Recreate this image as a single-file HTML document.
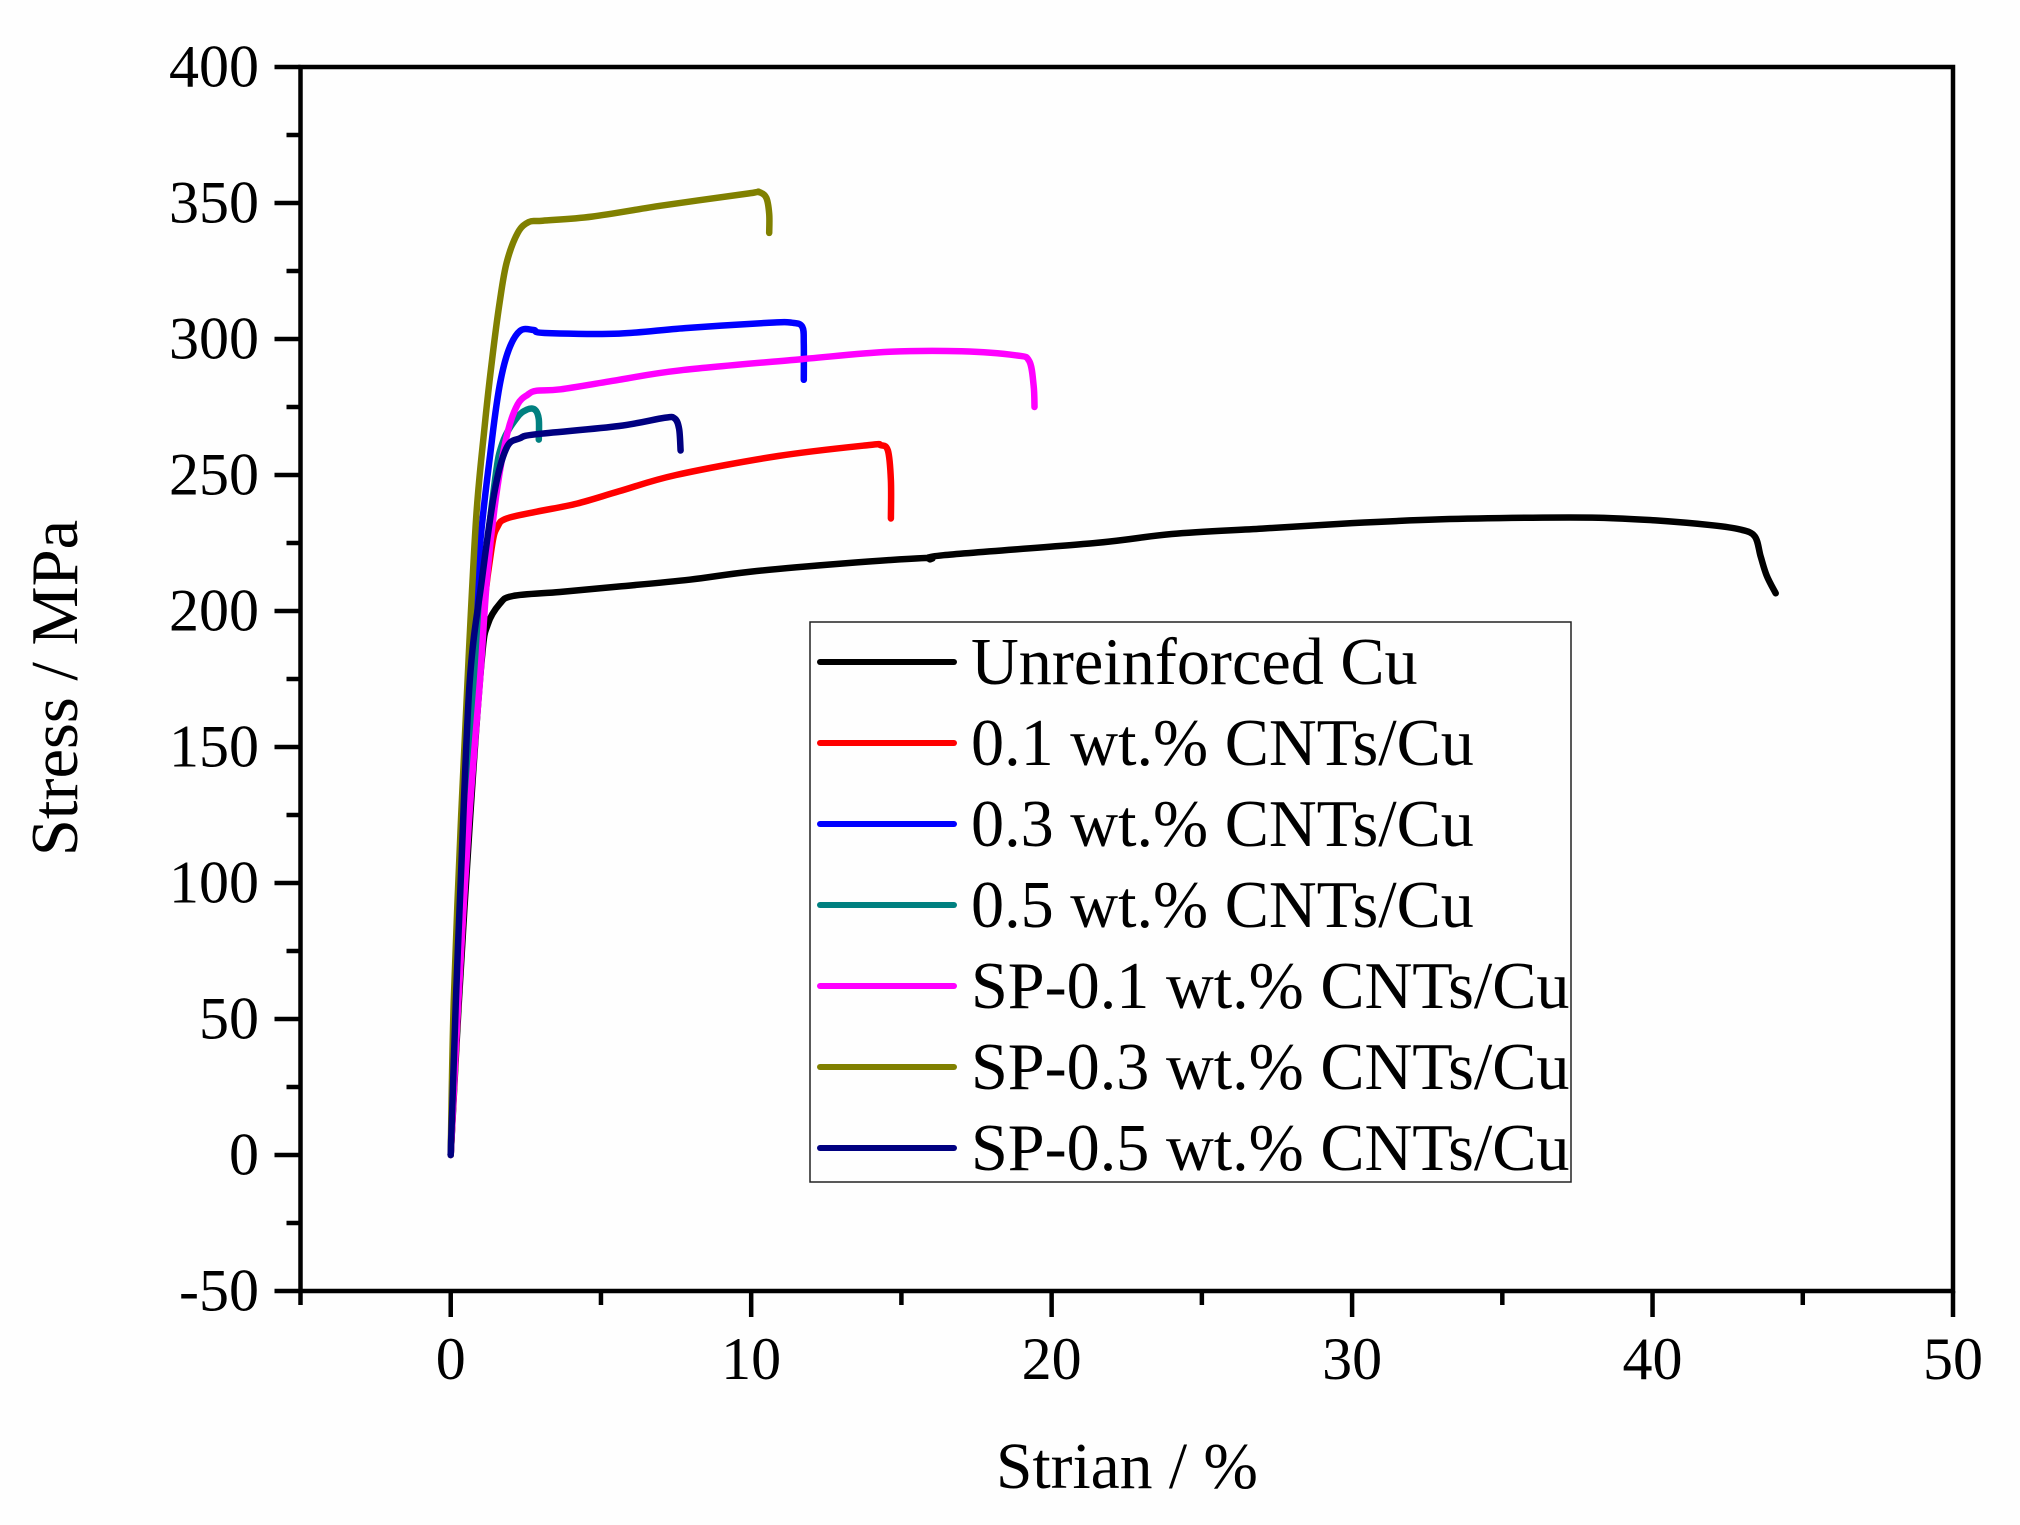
<!DOCTYPE html>
<html lang="en">
<head>
<meta charset="utf-8">
<title>Stress-strain curves</title>
<style>
html,body{margin:0;padding:0;background:#fefefe;}
svg{display:block;font-family:"Liberation Serif",serif;fill:#000;}
</style>
</head>
<body>
<svg id="chart" xmlns="http://www.w3.org/2000/svg" width="2020" height="1525" viewBox="0 0 2020 1525">
  <rect x="0" y="0" width="2020" height="1525" fill="#fefefe"/>
  <g id="series-layer"></g>
  <rect x="300.5" y="67" width="1652.5" height="1224" fill="none" stroke="#000" stroke-width="4.5"/>
  <g id="axis-layer"></g>
  <rect x="810" y="622" width="761" height="560" fill="none" stroke="#222" stroke-width="1.5"/>
  <g id="legend-layer"></g>
  <text x="1127" y="1488" font-size="65.5" text-anchor="middle">Strian / %</text>
  <text transform="translate(77,688) rotate(-90)" font-size="66.5" text-anchor="middle">Stress / MPa</text>
</svg>
<script>
const xMajorTicks = [0, 10, 20, 30, 40, 50];
const xMinorTicks = [-5, 5, 15, 25, 35, 45];
const yMajorTicks = [-50, 0, 50, 100, 150, 200, 250, 300, 350, 400];
const yMinorTicks = [-25, 25, 75, 125, 175, 225, 275, 325, 375];

const seriesNames = ["Unreinforced Cu", "0.1 wt.% CNTs/Cu", "0.3 wt.% CNTs/Cu", "0.5 wt.% CNTs/Cu", "SP-0.1 wt.% CNTs/Cu", "SP-0.3 wt.% CNTs/Cu", "SP-0.5 wt.% CNTs/Cu"];
const seriesColors = ["#000000", "#ff0000", "#0000ff", "#008080", "#ff00ff", "#808000", "#000080"];

const cuStrain = [0, 0.27, 0.65, 1.03, 1.23, 1.63, 2.07, 3.63, 5.6, 7.95, 10, 13.1, 15.8, 15.96, 16.4, 21.45, 24, 27, 30, 33, 36, 38.2, 40.1, 42, 42.9, 43.4, 43.6, 43.8, 44.1];
const cuStress = [0, 56, 125, 182, 195, 202.6, 205.5, 207, 209, 211.5, 214.5, 217.5, 219.5, 219, 220.5, 225, 228.3, 230.3, 232.3, 233.7, 234.3, 234.3, 233.3, 231.5, 230, 227.5, 220, 213, 206.5];

const cnt01Strain = [0, 0.25, 0.6, 1.0, 1.36, 1.56, 1.86, 2.86, 4.2, 5.6, 7.5, 10.9, 13.9, 14.3, 14.55, 14.65, 14.65];
const cnt01Stress = [0, 56, 125, 190, 223, 231, 234, 236.5, 239.5, 244, 250, 257, 261, 261, 259, 248, 234];

const cnt03Strain = [0, 0.15, 0.5, 0.9, 1.34, 1.63, 1.93, 2.31, 2.76, 3.13, 5.6, 7.8, 10.6, 11.35, 11.7, 11.75, 11.75];
const cnt03Stress = [0, 56, 140, 215, 260, 283, 296, 303, 303.3, 302.2, 302, 304, 306, 306, 304.5, 298, 285];

const cnt05Strain = [0, 0.18, 0.55, 1.0, 1.46, 1.73, 2.2, 2.53, 2.8, 2.93, 2.93];
const cnt05Stress = [0, 56, 130, 200, 247, 262, 271, 274, 274, 270.5, 263];

const sp01Strain = [0, 0.25, 0.6, 0.97, 1.23, 1.56, 1.9, 2.23, 2.56, 2.86, 3.66, 5.6, 7.65, 11.7, 14.6, 17, 18.8, 19.25, 19.4, 19.43];
const sp01Stress = [0, 56, 122, 174, 215, 246, 266, 276, 279.5, 281, 281.5, 285, 288.5, 292.6, 295.3, 295.5, 294, 292, 283, 275];

const sp03Strain = [0, 0.1, 0.35, 0.6, 0.85, 1.12, 1.35, 1.63, 1.86, 2.23, 2.6, 3.06, 4.7, 7, 9.9, 10.25, 10.5, 10.6, 10.6];
const sp03Stress = [0, 56, 125, 184, 235, 267, 290, 313.6, 328, 339, 343, 343.5, 345, 349, 353.5, 354, 352, 346, 339];

const sp05Strain = [0, 0.17, 0.35, 0.63, 1.03, 1.46, 1.86, 2.3, 2.86, 5.6, 7.1, 7.45, 7.6, 7.65];
const sp05Stress = [0, 56, 105, 174, 211, 244, 260, 263.5, 265, 268, 271, 270.8, 267, 259];

const strainSeries = [cuStrain, cnt01Strain, cnt03Strain, cnt05Strain, sp01Strain, sp03Strain, sp05Strain];
const stressSeries = [cuStress, cnt01Stress, cnt03Stress, cnt05Stress, sp01Stress, sp03Stress, sp05Stress];

const NS = "http://www.w3.org/2000/svg";
function xScale(v) { return 300.5 + (v + 5) * (1652.5 / 55); }
function yScale(v) { return 1291 - (v + 50) * (1224 / 450); }
function slug(s) { return s.toLowerCase().replace(/[^a-z0-9]+/g, "-").replace(/-$/, ""); }

const seriesLayer = document.getElementById("series-layer");
const axisLayer = document.getElementById("axis-layer");
const legendLayer = document.getElementById("legend-layer");

function makeLine(x1, y1, x2, y2, color, width) {
  const l = document.createElementNS(NS, "line");
  l.setAttribute("x1", x1);
  l.setAttribute("y1", y1);
  l.setAttribute("x2", x2);
  l.setAttribute("y2", y2);
  l.setAttribute("stroke", color);
  l.setAttribute("stroke-width", width);
  return l;
}
function makeText(x, y, size, anchor, str) {
  const t = document.createElementNS(NS, "text");
  t.setAttribute("x", x);
  t.setAttribute("y", y);
  t.setAttribute("font-size", size);
  t.setAttribute("text-anchor", anchor);
  t.textContent = str;
  return t;
}
function smoothPath(xs, ys) {
  const px = xs.map(xScale);
  const py = ys.map(yScale);
  let d = "M" + px[0].toFixed(1) + " " + py[0].toFixed(1);
  for (let i = 0; i < px.length - 1; i++) {
    const a = Math.max(i - 1, 0), b = Math.min(i + 2, px.length - 1);
    const c1x = px[i] + (px[i + 1] - px[a]) / 6, c1y = py[i] + (py[i + 1] - py[a]) / 6;
    const c2x = px[i + 1] - (px[b] - px[i]) / 6, c2y = py[i + 1] - (py[b] - py[i]) / 6;
    d += "C" + c1x.toFixed(1) + " " + c1y.toFixed(1) + " " + c2x.toFixed(1) + " " + c2y.toFixed(1) + " " + px[i + 1].toFixed(1) + " " + py[i + 1].toFixed(1);
  }
  return d;
}

seriesNames.forEach(function (name, i) {
  const p = document.createElementNS(NS, "path");
  p.setAttribute("d", smoothPath(strainSeries[i], stressSeries[i]));
  p.setAttribute("fill", "none");
  p.setAttribute("stroke", seriesColors[i]);
  p.setAttribute("stroke-width", "6.5");
  p.setAttribute("stroke-linejoin", "round");
  p.setAttribute("stroke-linecap", "round");
  
  
  seriesLayer.appendChild(p);
});

xMajorTicks.forEach(function (v) {
  const tick = makeLine(xScale(v), 1291, xScale(v), 1317, "#000", 4.5);
  
  
  axisLayer.appendChild(tick);
  const label = makeText(xScale(v), 1379, 60, "middle", String(v));
  
  
  axisLayer.appendChild(label);
});
xMinorTicks.forEach(function (v) {
  const tick = makeLine(xScale(v), 1291, xScale(v), 1305, "#000", 4.5);
  
  
  axisLayer.appendChild(tick);
});
yMajorTicks.forEach(function (v) {
  const tick = makeLine(274.5, yScale(v), 300.5, yScale(v), "#000", 4.5);
  
  
  axisLayer.appendChild(tick);
  const label = makeText(259, yScale(v) + 19.5, 60, "end", String(v));
  
  
  axisLayer.appendChild(label);
});
yMinorTicks.forEach(function (v) {
  const tick = makeLine(286.5, yScale(v), 300.5, yScale(v), "#000", 4.5);
  
  
  axisLayer.appendChild(tick);
});

seriesNames.forEach(function (name, i) {
  const rowY = 662 + i * 81;
  const sample = makeLine(820, rowY, 954, rowY, seriesColors[i], 6);
  sample.setAttribute("stroke-linecap", "round");
  
  
  legendLayer.appendChild(sample);
  const label = makeText(971, rowY + 22, 66.2, "start", name);
  
  
  legendLayer.appendChild(label);
});
</script>
</body>
</html>
